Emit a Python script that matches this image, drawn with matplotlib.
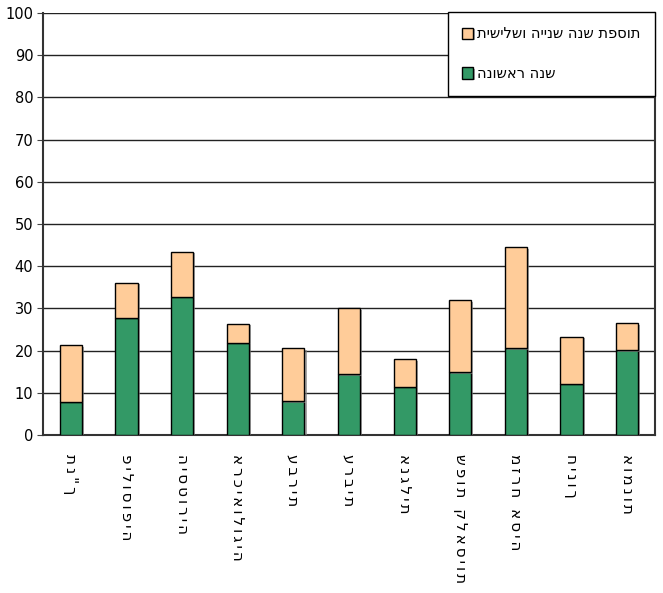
import matplotlib
matplotlib.use("Agg")
import matplotlib.pyplot as plt
import matplotlib.patheffects as pe
import numpy as np

# subjects (logical Hebrew order), first year and added 2nd+3rd year
subjects = ["תנ\"ך", "פילוסופיה", "היסטוריה", "ארכיאולוגיה", "עברית", "ערבית",
            "אנגלית", "שפות קלאסיות", "מזרח אסיה", "חינוך", "אומנות"]
first_year = [7.9, 27.7, 32.7, 21.9, 8.0, 14.4, 11.4, 14.9, 20.5, 12.1, 20.1]
total = [21.3, 36.0, 43.4, 26.4, 20.5, 30.0, 17.9, 31.9, 44.5, 23.2, 26.5]
extra = [t - f for t, f in zip(total, first_year)]

label_first = "שנה ראשונה"
label_extra = "תוספת שנה שנייה ושלישית"


def visual(s):
    # matplotlib has no bidi support, flip for display
    return s[::-1]


def spaced(s):
    # vertical labels in the original have loose letter spacing
    return "\u2009".join(s)


plt.rcParams["font.family"] = ["DejaVu Sans"]

fig = plt.figure(figsize=(6.63, 5.93), dpi=100)
ax = fig.add_axes([43 / 663, 1 - 435 / 593, 612 / 663, 422 / 593])

shadow = [pe.SimplePatchShadow(offset=(1.5, -1.0), shadow_rgbFace="#808080", alpha=0.7),
          pe.Normal()]
x = np.arange(len(subjects))
w = 0.4
b1 = ax.bar(x, first_year, w, color="#339966", edgecolor="black", linewidth=1,
            label=visual(label_first), zorder=3)
b2 = ax.bar(x, extra, w, bottom=first_year, color="#FFCC99", edgecolor="black",
            linewidth=1, label=visual(label_extra), zorder=3)
for p in list(b1) + list(b2):
    p.set_path_effects(shadow)

ax.set_xlim(-0.5, len(subjects) - 0.5)
ax.set_ylim(0, 100)
ax.set_yticks(range(0, 101, 10))
ax.yaxis.grid(True, color="#222222", linewidth=1, zorder=0)
ax.tick_params(axis="y", labelsize=10.5, length=4, pad=3, direction="out", color="#444444")
ax.tick_params(axis="x", length=0, pad=14)
ax.set_xticks(x)
ax.set_xticklabels([spaced(s) for s in subjects], rotation=-90, fontsize=11,
                   va="top", ha="center")

for side in ["left", "bottom", "right"]:
    ax.spines[side].set_color("#333333")
    ax.spines[side].set_linewidth(1.5)
ax.spines["top"].set_visible(False)

handles, labels = ax.get_legend_handles_labels()
leg = ax.legend(handles[::-1], labels[::-1], loc="upper right",
                bbox_to_anchor=(1.0, 1.003), borderaxespad=0, fontsize=10.5,
                frameon=True, fancybox=False, labelspacing=1.7,
                handlelength=0.7, handleheight=0.8, handletextpad=0.3,
                borderpad=1.0)
leg.get_frame().set_edgecolor("black")
leg.get_frame().set_linewidth(1)
leg.get_frame().set_alpha(1)

fig.savefig("out.png", dpi=100)
